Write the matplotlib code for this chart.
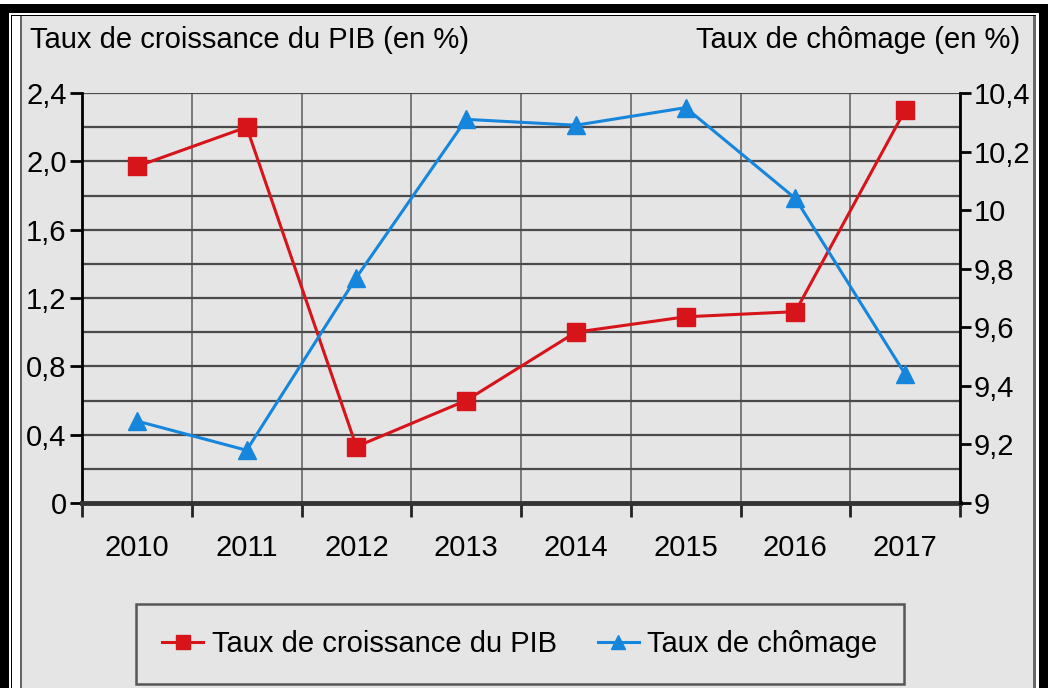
import numpy as np
import matplotlib.pyplot as plt
from matplotlib.patches import Rectangle
from matplotlib.ticker import FuncFormatter

plt.rcParams['font.family'] = ['Liberation Sans', 'DejaVu Sans']

# data
years = ['2010', '2011', '2012', '2013', '2014', '2015', '2016', '2017']
pib = [1.97, 2.2, 0.33, 0.6, 1.0, 1.09, 1.12, 2.3]
chomage = [9.28, 9.18, 9.77, 10.31, 10.29, 10.35, 10.04, 9.44]

red = '#d7141a'
blue = '#1586dc'
bg = '#e5e5e5'
gridc = '#4a4a4a'

W, H = 1050, 688
fig = plt.figure(figsize=(W / 100, H / 100), dpi=100)
fig.patch.set_facecolor('white')


def rect(x0, y0, x1, y1, color):
    # pixel box (top-left origin) -> figure coords
    fig.add_artist(Rectangle((x0 / W, 1 - y1 / H), (x1 - x0) / W, (y1 - y0) / H,
                             transform=fig.transFigure, color=color, lw=0, zorder=-10))


# framed panel
rect(0, 4, 1048, H, 'black')
rect(9, 13, 1039, H, 'white')
rect(10.5, 14.5, 1036, H, 'black')
rect(12, 16, 1036, H, 'white')
rect(19.5, 16, 1036, H, '#666666')
rect(21.5, 16, 1033, H, bg)

ax = fig.add_axes([82 / W, 1 - 503 / H, (960 - 82) / W, (503 - 93) / H])
ax.set_facecolor('none')
ax2 = ax.twinx()

x = np.arange(len(years))
ax.plot(x, pib, color=red, lw=2.2, marker='s', ms=13, zorder=5, clip_on=False,
        label='Taux de croissance du PIB')
ax2.plot(x, chomage, color=blue, lw=2.2, marker='^', ms=13, zorder=5, clip_on=False,
         label='Taux de chômage')

ax.set_xlim(-0.5, len(years) - 0.5)
ax.set_ylim(0, 2.4)
ax2.set_ylim(9, 10.4)

ax.set_xticks(x)
ax.set_xticklabels(years, fontsize=21)
ax.set_xticks(np.arange(len(years) + 1) - 0.5, minor=True)
ax.tick_params(axis='x', which='major', length=0, pad=22)
ax.tick_params(axis='x', which='minor', length=10, width=2, color='#222222', direction='out')

left_fmt = FuncFormatter(lambda v, p: '0' if abs(v) < 1e-9 else ('%.1f' % v).replace('.', ','))
right_fmt = FuncFormatter(lambda v, p: ('%g' % round(v, 1)).replace('.', ','))
ax.set_yticks(np.arange(0, 2.41, 0.4))
ax.set_yticks(np.arange(0, 2.41, 0.2), minor=True)
ax.yaxis.set_major_formatter(left_fmt)
ax.tick_params(axis='y', which='major', length=9, width=2, labelsize=21, pad=2)
ax.tick_params(axis='y', which='minor', length=0)

ax2.set_yticks(np.arange(9, 10.41, 0.2))
ax2.yaxis.set_major_formatter(right_fmt)
ax2.tick_params(axis='y', length=8, width=2, labelsize=21, pad=2)

ax.grid(True, axis='y', which='both', color=gridc, lw=1.6)
ax.grid(True, axis='x', which='minor', color='#666666', lw=1.2)
ax.set_axisbelow(True)

ax.spines['top'].set_visible(False)
ax2.spines['top'].set_visible(False)
ax.spines['left'].set_linewidth(2)
ax.spines['bottom'].set_linewidth(3.5)
ax.spines['bottom'].set_color('#333333')
ax2.spines['right'].set_linewidth(2)
ax2.spines['left'].set_visible(False)
ax2.spines['bottom'].set_visible(False)

fig.text(30 / W, 1 - 40 / H, 'Taux de croissance du PIB (en %)', fontsize=21,
         ha='left', va='center')
fig.text(1020 / W, 1 - 40 / H, 'Taux de chômage (en %)', fontsize=21,
         ha='right', va='center')

h1, l1 = ax.get_legend_handles_labels()
h2, l2 = ax2.get_legend_handles_labels()
leg = fig.legend(h1 + h2, l1 + l2, loc='center',
                 bbox_to_anchor=(520 / W, 1 - 644 / H), ncol=2, fontsize=21,
                 frameon=True, fancybox=False, edgecolor='#333333',
                 handlelength=1.4, handletextpad=0.3, columnspacing=1.4,
                 borderpad=0.9, markerscale=0.75)
leg.get_frame().set_linewidth(1.8)
leg.get_frame().set_facecolor(bg)

fig.savefig('out.png', dpi=100, facecolor=fig.get_facecolor())
